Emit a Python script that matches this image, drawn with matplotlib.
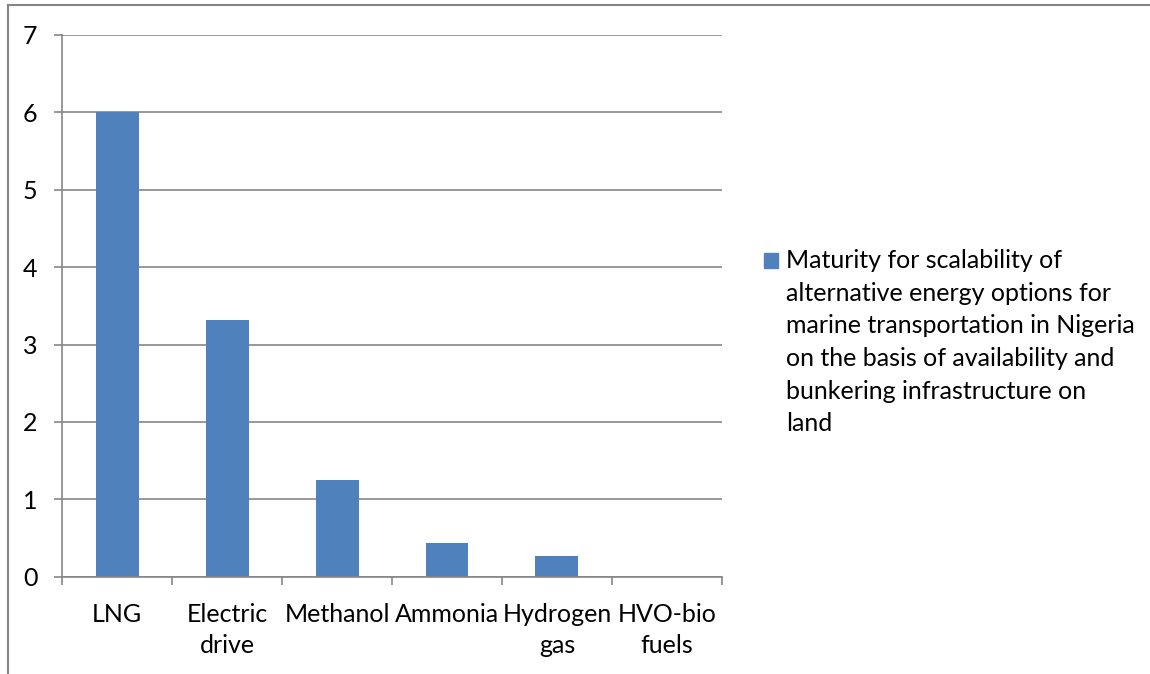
import matplotlib.pyplot as plt
import numpy as np
from matplotlib.lines import Line2D
from matplotlib.patches import Rectangle

plt.rcParams["font.family"] = ["Lato", "DejaVu Sans"]

options = ["LNG", "Electric\ndrive", "Methanol", "Ammonia", "Hydrogen\ngas", "HVO-bio\nfuels"]
maturity = [6.0, 3.32, 1.25, 0.43, 0.27, 0.0]
y_ticks = [0, 1, 2, 3, 4, 5, 6, 7]
series_label = ("Maturity for scalability of\nalternative energy options for\n"
                "marine transportation in Nigeria\non the basis of availability and\n"
                "bunkering infrastructure on\nland")

BAR_BLUE = "#4F81BD"
GRID_GREY = "#868686"
FS = 18

fig = plt.figure(figsize=(11.5, 6.74), dpi=100)
ax = fig.add_axes([0.0542, 0.1444, 0.5734, 0.8037])

x = np.arange(len(options))
ax.bar(x, maturity, width=0.39, color=BAR_BLUE, zorder=2)

ax.set_xlim(-0.5, len(options) - 0.5)
ax.set_ylim(0, 7)
ax.set_yticks(y_ticks)
ax.set_yticklabels([str(t) for t in y_ticks], fontsize=FS)
ax.yaxis.grid(True, color=GRID_GREY, lw=1.2)
ax.set_axisbelow(True)

# category boundaries carry the tick marks, labels sit between them
ax.set_xticks(np.arange(len(options) + 1) - 0.5)
ax.set_xticklabels([])
ax.set_xticks(x, minor=True)
ax.set_xticklabels(options, minor=True, fontsize=FS, ha="center",
                   multialignment="center", linespacing=1.44)
ax.tick_params(axis="x", which="minor", length=0, pad=19)
ax.tick_params(axis="x", which="major", length=6, width=1.2, color=GRID_GREY)
ax.tick_params(axis="y", length=6, width=1.2, color=GRID_GREY, pad=12)

for side in ("top", "right"):
    ax.spines[side].set_visible(False)
for side in ("left", "bottom"):
    ax.spines[side].set_color(GRID_GREY)
    ax.spines[side].set_linewidth(1.2)

# legend: swatch beside the wrapped series name
W, H = 1150, 674
fig.patches.append(Rectangle((764 / W, 1 - 268 / H), 14 / W, 15 / H,
                             transform=fig.transFigure, color=BAR_BLUE))
fig.text(786 / W, 1 - 249 / H, series_label, fontsize=FS, va="top",
         ha="left", linespacing=1.51)

# outer chart frame (left and top edges)
fig.add_artist(Line2D([7.5 / W, 7.5 / W], [0, 1 - 5 / H], color=GRID_GREY,
                      lw=1.5, transform=fig.transFigure))
fig.add_artist(Line2D([7.5 / W, 1], [1 - 5 / H, 1 - 5 / H], color=GRID_GREY,
                      lw=1.5, transform=fig.transFigure))

fig.savefig("out.png", dpi=100)
